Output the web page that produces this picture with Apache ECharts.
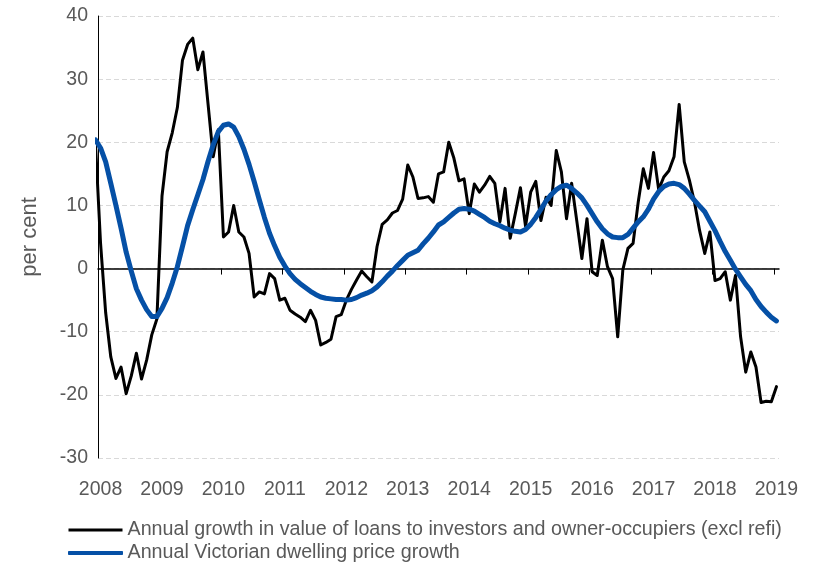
<!DOCTYPE html>
<html><head><meta charset="utf-8">
<script src="https://cdn.jsdelivr.net/npm/echarts@6/dist/echarts.min.js"></script>
<style>html,body{margin:0;padding:0;background:#fff}#c{width:817px;height:566px}</style>
</head><body><div id="c"></div>
<script>
// Monthly observations, Dec 2007 .. Jan 2019 (the Dec 2007 point is clipped by the plot area)
const firstYear = 2007, firstMonth = 12;
const seriesNames = [
  'Annual growth in value of loans to investors and owner-occupiers (excl refi)',
  'Annual Victorian dwelling price growth'
];
const loansGrowth = [
  20,
  4, -7, -14, -17.4, -15.6, -19.8, -17, -13.4, -17.5, -14.5, -10.5, -8,
  11.5, 18.5, 21.5, 25.5, 33, 35.5, 36.5, 31.5, 34.3, 26, 17.7, 22,
  5, 5.8, 10, 5.8, 5, 2.4, -4.5, -3.7, -4, -0.8, -1.6, -5,
  -4.7, -6.6, -7.2, -7.7, -8.4, -6.6, -8.2, -12.1, -11.7, -11.2, -7.6, -7.3,
  -5, -3.3, -1.8, -0.4, -1.3, -2.1, 3.5, 7, 7.7, 8.8, 9.2, 11,
  16.4, 14.5, 11.1, 11.2, 11.4, 10.5, 15, 15.3, 20, 17.5, 13.9, 14.2,
  8.7, 13.4, 12.1, 13.2, 14.6, 13.5, 7.4, 12.7, 4.8, 8.7, 12.8, 6.7,
  12.1, 13.8, 7.6, 11.3, 10, 18.7, 15.3, 7.9, 13.5, 7.6, 1.6, 7.9,
  -0.5, -1.1, 4.5, 0.3, -1.6, -10.8, -0.2, 3.2, 4, 10.5, 15.8, 12.7,
  18.4, 12.5, 14.5, 15.5, 17.7, 26, 16.9, 14, 10.5, 6, 2.4, 5.8,
  -1.9, -1.6, -0.5, -5, -1.1, -10.8, -16.4, -13.2, -15.6, -21.2, -21, -21.1,
  -18.7
];
const priceGrowth = [
  20.4,
  19.1, 16.9, 13.5, 10.0, 6.4, 2.6, -0.4, -3.2, -5.0, -6.5, -7.6, -7.6,
  -6.3, -4.6, -2.3, 0.3, 3.5, 6.8, 9.3, 11.7, 14.1, 17.0, 19.6, 21.7,
  22.7, 22.9, 22.4, 20.9, 18.9, 16.5, 13.8, 10.9, 8.1, 5.6, 3.6, 1.8,
  0.4, -0.8, -1.7, -2.4, -3.0, -3.6, -4.1, -4.5, -4.7, -4.8, -4.9, -4.9,
  -5.0, -4.9, -4.6, -4.2, -3.9, -3.5, -2.9, -2.1, -1.2, -0.4, 0.5, 1.3,
  2.1, 2.5, 2.9, 3.9, 4.8, 5.8, 6.9, 7.4, 8.1, 8.8, 9.4, 9.5,
  9.4, 9.1, 8.6, 8.1, 7.5, 7.1, 6.8, 6.4, 6.1, 5.9, 5.8, 6.2,
  7.0, 8.1, 9.4, 10.7, 11.7, 12.5, 13.0, 13.2, 12.7, 12.0, 11.2, 10.0,
  8.7, 7.4, 6.3, 5.5, 5.0, 4.9, 4.9, 5.4, 6.4, 7.4, 8.2, 9.4,
  11.0, 12.2, 13.0, 13.4, 13.5, 13.3, 12.7, 11.8, 10.8, 9.9, 9.0, 7.5,
  6.0, 4.3, 2.7, 1.3, -0.1, -1.3, -2.5, -3.5, -4.9, -6.0, -6.9, -7.7,
  -8.3
];
const yearTicks = [2008, 2009, 2010, 2011, 2012, 2013, 2014, 2015, 2016, 2017, 2018, 2019];
const yMin = -30, yMax = 40, yStep = 10;

// month labels 'YYYY-MM' for each observation
const months = [];
for (let k = 0; k < loansGrowth.length; k++) {
  const m0 = firstMonth - 1 + k;
  const yy = firstYear + Math.floor(m0 / 12);
  const mm = (m0 % 12) + 1;
  months.push(yy + '-' + String(mm).padStart(2, '0'));
}
// each month plotted at the middle of its month (date axis, between tick marks)
function monthPos(label) {
  const [yy, mm] = label.split('-').map(Number);
  return yy + (mm - 0.5) / 12;
}
const loansData = months.map((m, i) => [monthPos(m), loansGrowth[i]]);
const priceData = months.map((m, i) => [monthPos(m), priceGrowth[i]]);

const FONT = 'Liberation Sans';
const GREY = '#595959';
const BLUE = '#0550A6';
const xMax = yearTicks[yearTicks.length - 1] + 1 / 12;

const chart = echarts.init(document.getElementById('c'), null, {renderer: 'canvas'});
chart.setOption({
  animation: false,
  textStyle: {fontFamily: FONT},
  grid: {left: 98, right: 38, top: 16, bottom: 108, containLabel: false},
  legend: {
    orient: 'vertical', left: 68, top: 520, padding: 0,
    itemWidth: 54, itemHeight: 3, itemGap: 3, icon: 'rect',
    textStyle: {fontSize: 19.7, color: GREY, fontFamily: FONT, lineHeight: 20},
    data: [
      {name: seriesNames[0]},
      {name: seriesNames[1], itemStyle: {color: BLUE, borderColor: BLUE, borderWidth: 1}}
    ]
  },
  xAxis: [
    {
      type: 'value', min: yearTicks[0], max: xMax, position: 'bottom',
      axisLine: {show: false, onZero: false},
      axisTick: {show: false},
      splitLine: {show: false},
      axisLabel: {
        customValues: yearTicks.map(y => y + 1 / 24),
        formatter: v => String(Math.floor(v + 1e-6)),
        fontSize: 19.5, color: GREY, fontFamily: FONT, margin: 22
      }
    },
    {
      type: 'value', min: yearTicks[0], max: xMax, position: 'top',
      axisLine: {show: true, onZero: true, lineStyle: {color: '#000', width: 1.5}},
      axisTick: {show: true, inside: true, length: 6, customValues: yearTicks, lineStyle: {color: '#000', width: 1}},
      axisLabel: {show: false},
      splitLine: {show: false}
    }
  ],
  yAxis: {
    type: 'value', min: yMin, max: yMax, interval: yStep,
    name: 'per cent', nameLocation: 'middle', nameGap: 57,
    nameTextStyle: {fontSize: 22, color: GREY, fontFamily: FONT},
    axisLine: {show: true, onZero: false, lineStyle: {color: '#000', width: 1}},
    axisTick: {show: false},
    axisLabel: {fontSize: 19.5, color: GREY, fontFamily: FONT, margin: 10},
    splitLine: {show: true, lineStyle: {color: '#d9d9d9', width: 1, type: [5, 3]}}
  },
  series: [
    {
      name: seriesNames[0], type: 'line', xAxisIndex: 0, yAxisIndex: 0,
      data: loansData, symbol: 'none', clip: true,
      itemStyle: {color: '#000'},
      lineStyle: {color: '#000', width: 3, cap: 'round', join: 'round'}
    },
    {
      name: seriesNames[1], type: 'line', xAxisIndex: 0, yAxisIndex: 0,
      data: priceData, symbol: 'none', clip: true,
      itemStyle: {color: BLUE},
      lineStyle: {color: BLUE, width: 5, cap: 'round', join: 'round'}
    }
  ]
});
</script>
</body></html>
